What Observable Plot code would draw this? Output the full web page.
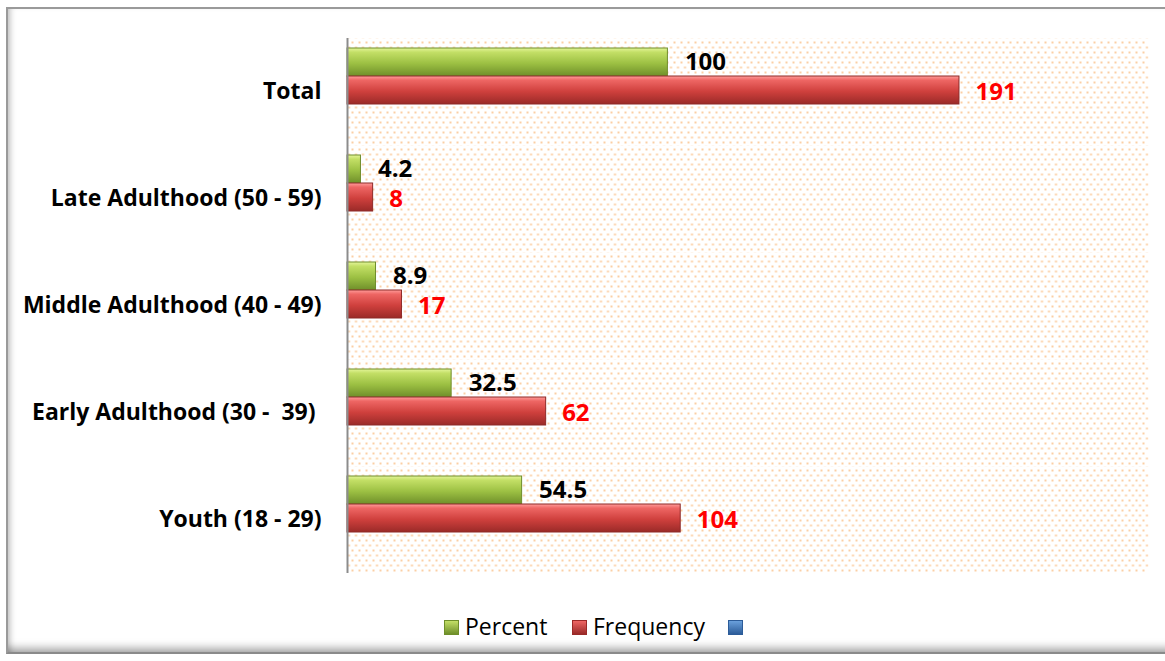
<!DOCTYPE html>
<html>
<head>
<meta charset="utf-8">
<script src="https://cdn.jsdelivr.net/npm/d3@7"></script>
<script src="https://cdn.jsdelivr.net/npm/@observablehq/plot@0.6"></script>
<style>
  html, body { margin: 0; padding: 0; background: #fff; width: 1165px; height: 661px; overflow: hidden; }
  #frame { position: absolute; left: 6px; top: 7px; width: 1170px; height: 643px;
    border-left: 2px solid #9a9a9a; border-top: 2px solid #9a9a9a;
    box-shadow: inset 6px 0 6px -4px rgba(0,0,0,0.25), inset 0 -10px 8px -6px rgba(0,0,0,0.35);
    border-bottom: 2px solid #8a8a8a; }
  #chart { position: absolute; left: 0; top: 0; }
  #chart text { white-space: pre; }
  .sw { position: absolute; width: 15px; height: 15px; box-sizing: border-box; top: 620px; }
  .lt { position: absolute; top: 610px; font-family: "Open Sans", sans-serif; font-size: 23px; color: #000; line-height: 32px; }
</style>
</head>
<body>
<div id="frame"></div>
<div id="chart"></div>
<div id="legend"></div>
<script>
const categories = ["Total", "Late Adulthood (50 - 59)", "Middle Adulthood (40 - 49)", "Early Adulthood (30 -  39) ", "Youth (18 - 29)"];
const series = ["Percent", "Frequency"];
const percentValues = [100, 4.2, 8.9, 32.5, 54.5];
const frequencyValues = [191, 8, 17, 62, 104];
const legendItems = ["Percent", "Frequency", ""];

const percentRows = categories.map((c, i) => ({category: c, series: "Percent", value: percentValues[i]}));
const frequencyRows = categories.map((c, i) => ({category: c, series: "Frequency", value: frequencyValues[i]}));

const plot = Plot.plot({
  width: 1165,
  height: 600,
  marginLeft: 347,
  marginRight: 17,
  marginTop: 38,
  marginBottom: 27,
  x: {domain: [0, 250], axis: null},
  y: {domain: series, axis: null, paddingInner: 0, paddingOuter: 0.845, align: 0.19},
  fy: {domain: categories, padding: 0, label: null, axis: "left", tickSize: 0, tickPadding: 26},
  style: {fontFamily: "'Open Sans', sans-serif", fontWeight: "bold", fontSize: "23px", color: "#000", background: "transparent"},
  marks: [
    Plot.frame({fill: "url(#dots)", stroke: null}),
    Plot.barX(percentRows, {x: "value", y: "series", fy: "category", fill: "url(#gGreen)", stroke: "#6f8d2c", strokeWidth: 1}),
    Plot.barX(frequencyRows, {x: "value", y: "series", fy: "category", fill: "url(#gRed)", stroke: "#8e2a28", strokeWidth: 1}),
    Plot.text(percentRows, {x: "value", y: "series", fy: "category", text: d => String(d.value), dx: 17, dy: 0, textAnchor: "start", fill: "#000", fontSize: 24}),
    Plot.text(frequencyRows, {x: "value", y: "series", fy: "category", text: d => String(d.value), dx: 16, dy: 2, textAnchor: "start", fill: "#ff0000", fontSize: 24}),
    Plot.ruleX([0], {stroke: "#8c8c8c", strokeWidth: 2})
  ]
});

const defs = d3.select(plot).insert("defs", ":first-child");
const pat = defs.append("pattern").attr("id", "dots").attr("patternUnits", "userSpaceOnUse")
  .attr("width", 7).attr("height", 10);
pat.append("rect").attr("x", 1).attr("y", 1).attr("width", 2).attr("height", 2).attr("fill", "#fbcfa4");
pat.append("rect").attr("x", 4.5).attr("y", 6).attr("width", 2).attr("height", 2).attr("fill", "#fbcfa4");

function grad(id, stops) {
  const g = defs.append("linearGradient").attr("id", id).attr("x1", 0).attr("y1", 0).attr("x2", 0).attr("y2", 1);
  stops.forEach(([o, c]) => g.append("stop").attr("offset", o).attr("stop-color", c));
}
grad("gGreen", [[0, "#e4f59a"], [0.15, "#c3df66"], [0.55, "#9cc043"], [1, "#6f8f2a"]]);
grad("gRed", [[0, "#ff9c9a"], [0.15, "#ee6664"], [0.55, "#cf403d"], [1, "#9a2a28"]]);

d3.select(plot).selectAll("rect[fill^='url(#g']").style("filter", "drop-shadow(1px 3px 2px rgba(0,0,0,0.3))");

document.getElementById("chart").appendChild(plot);

const legendColors = [["#c3df66", "#6f8f2a"], ["#ee6664", "#9a2a28"], ["#6aa0dc", "#2c5c99"]];
const swatchX = [444, 572, 728];
const textX = [465, 593, 0];
const legend = document.getElementById("legend");
legendItems.forEach((name, i) => {
  const sw = document.createElement("div");
  sw.className = "sw";
  sw.style.left = swatchX[i] + "px";
  sw.style.background = `linear-gradient(${legendColors[i][0]}, ${legendColors[i][1]})`;
  sw.style.border = `1px solid ${legendColors[i][1]}`;
  legend.appendChild(sw);
  if (name) {
    const t = document.createElement("div");
    t.className = "lt";
    t.style.left = textX[i] + "px";
    t.textContent = name;
    legend.appendChild(t);
  }
});
</script>
</body>
</html>
